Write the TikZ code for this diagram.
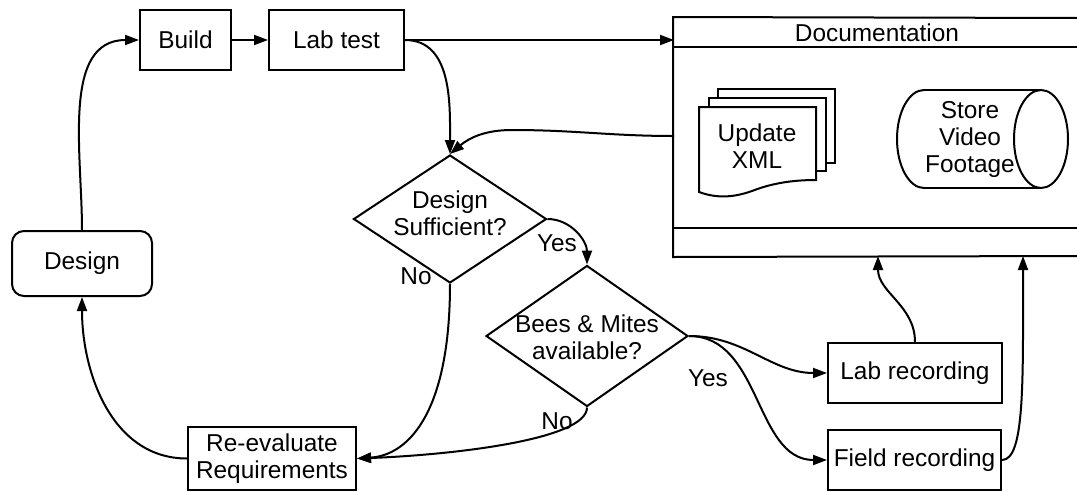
\documentclass[tikz,border=0pt]{standalone}
\usepackage{fontspec}
\setmainfont{Liberation Sans}
\usetikzlibrary{arrows.meta,shapes.geometric}
\begin{document}
\begin{tikzpicture}[x=1pt,y=-1pt,
  line width=2pt,
  font=\fontsize{24.4}{27}\selectfont,
  box/.style={draw,rectangle,inner sep=0pt,align=center},
  dec/.style={draw,diamond,inner sep=0pt},
  txt/.style={inner sep=0pt,align=center},
  arr/.style={-{Triangle[length=14pt,width=10pt]}},
  ]
\useasboundingbox (0,0) rectangle (1077,491);
% --- main nodes
\node[box,rounded corners=12pt,minimum width=140pt,minimum height=65pt] (design) at (82,263.5) {Design};
\node[box,minimum width=91pt,minimum height=60pt] (build) at (185.5,40) {Build};
\node[box,minimum width=135pt,minimum height=60pt] (labtest) at (336.5,40) {Lab test};
\node[box,minimum width=168pt,minimum height=63pt] (reeval) at (272,458.5) {Re-evaluate\\Requirements};
\node[box,minimum width=174pt,minimum height=60pt] (labrec) at (915,373) {Lab recording};
\node[box,minimum width=173pt,minimum height=60pt] (fieldrec) at (914.5,460) {Field recording};
% --- decisions
\node[dec,minimum width=193pt,minimum height=128pt] (d1) at (450,219) {};
\node[txt] (d1t) at (450,213) {Design\\Sufficient?};
\node[dec,minimum width=202pt,minimum height=141pt] (d2) at (587,336) {};
\node[txt] (d2t) at (587,337) {Bees \& Mites\\available?};
% --- documentation container
\node[inner sep=0pt,minimum width=406pt,minimum height=238pt] (doc) at (877,137) {};
\draw (1078,18) -- (doc.north west) -- (doc.south west) -- (1078,256);
\draw (674,47) -- (1078,47);
\draw (674,228) -- (1078,228);
\node[txt] (doct) at (877,33) {Documentation};
% multidocument
\draw[fill=white] (718,89) rectangle (835,163);
\draw[fill=white] (709,98) rectangle (826,171);
\draw[fill=white] (699,107) -- (816,107) -- (816,180)
  .. controls (790,180) and (770,184) .. (752,191)
  .. controls (735,197) and (718,199) .. (699,192) -- cycle;
\node[txt] (upd) at (757,146) {Update\\XML};
% cylinder
\draw (924,90) -- (1041,90);
\draw (924,188) -- (1041,188);
\draw (924,90) arc[start angle=90,end angle=270,x radius=27pt,y radius=49pt];
\draw (1041,139) ellipse[x radius=27pt,y radius=49pt];
\node[txt] (store) at (970,140) {Store\\Video\\Footage};
% --- labels
\node[txt] (yes1) at (557,243) {Yes};
\node[txt] (no1) at (416,276) {No};
\node[txt] (yes2) at (708,378) {Yes};
\node[txt] (no2) at (557,421) {No};
% --- connector end points on documentation
\coordinate (docin) at (674,40);
\coordinate (docout) at (674,136);
\coordinate (docmid) at (512,130);
\coordinate (docb1) at (878,256);
\coordinate (docb2) at (1023,256);
% --- connectors
\draw[arr] (design.north) to[out=90,in=180] (build.west);
\draw[arr] (build.east) -- (labtest.west);
\draw[arr] (labtest.east) -- (docin);
\draw[arr] (labtest.east) to[out=0,in=90] (d1.north);
\draw[arr] (docout) to[out=180,in=0] (docmid) to[out=180,in=40] (d1.north);
\draw[arr] (d1.east) to[out=0,in=90] (d2.north);
\draw[arr] (d1.south) .. controls (450,410) and (410,455) .. (reeval.east);
\draw[arr] (d2.south) .. controls (587,440) and (450,455) .. (reeval.east);
\draw[arr] (reeval.west) to[out=180,in=-90] (design.south);
\draw[arr] (d2.east) to[out=0,in=180] (labrec.west);
\draw[arr] (d2.east) to[out=0,in=180] (fieldrec.west);
\draw[arr] (labrec.north) to[out=90,in=-90] (docb1);
\draw[arr] (fieldrec.east) .. controls (1025,460) and (1023,380) .. (docb2);
\end{tikzpicture}
\end{document}
